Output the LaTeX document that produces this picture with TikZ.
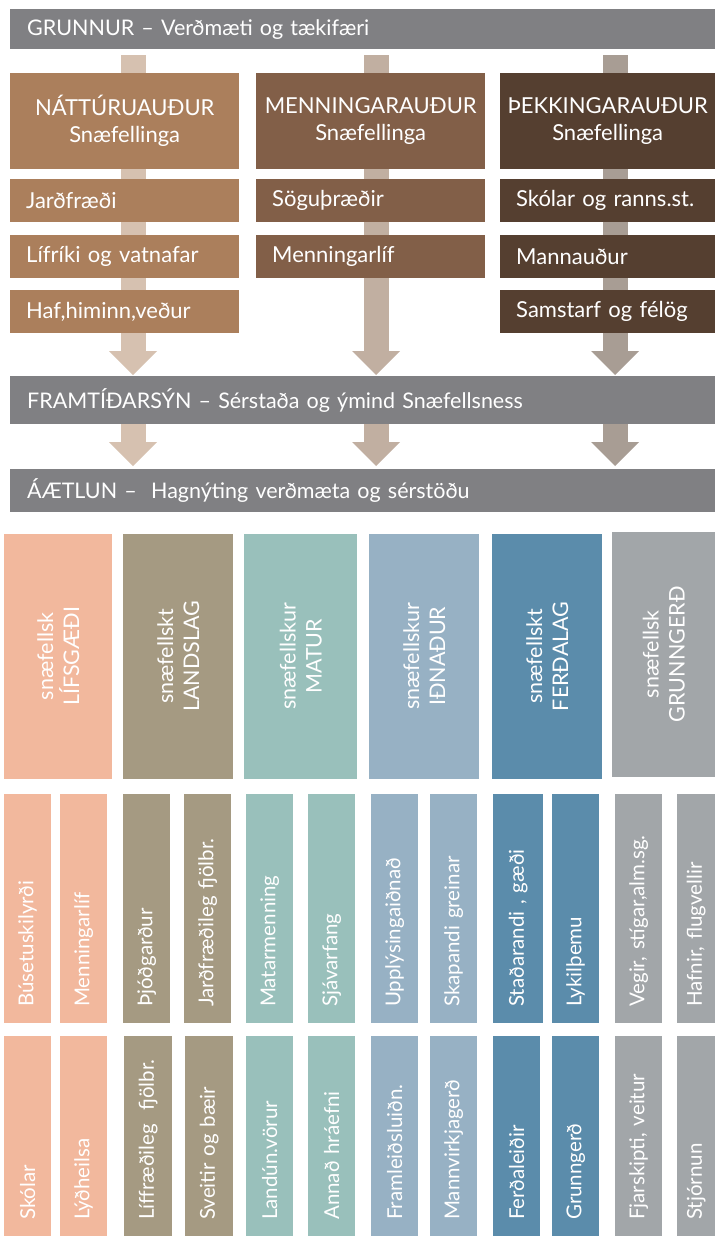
\documentclass[tikz,border=0pt]{standalone}
\usepackage{fontspec}
\setmainfont{Lato}
\usetikzlibrary{arrows.meta,backgrounds}
\definecolor{bargray}{HTML}{808083}
\definecolor{natbrown}{HTML}{AB7F5C}
\definecolor{menbrown}{HTML}{825F48}
\definecolor{pekbrown}{HTML}{553F30}
\definecolor{arrA}{HTML}{D6C1B0}
\definecolor{arrB}{HTML}{C1AFA1}
\definecolor{arrC}{HTML}{A89D94}
\definecolor{lifs}{HTML}{F2B89D}
\definecolor{lands}{HTML}{A59A82}
\definecolor{matur}{HTML}{99C0BB}
\definecolor{idn}{HTML}{97B1C4}
\definecolor{ferd}{HTML}{5B8CAB}
\definecolor{grunn}{HTML}{A2A6A9}

\begin{document}
\begin{tikzpicture}[x=1pt, y=-1pt, inner sep=0pt, text=white, font=\fontsize{20.5}{24}\selectfont,
    bar/.style = {fill=bargray, anchor=north west, minimum width=705pt, text width=671pt, inner xsep=17pt, align=left, font=\fontsize{21.5}{26}\selectfont},
    head/.style = {anchor=north west, minimum width=229pt, minimum height=96pt, align=center, font=\fontsize{22}{27}\selectfont},
    item/.style = {anchor=north west, minimum width=229pt, minimum height=43pt, text width=197pt, inner xsep=16pt, align=left, font=\fontsize{22}{26}\selectfont},
    tall/.style = {rotate=90, anchor=north west, minimum width=245pt, align=center, font=\fontsize{21.5}{26}\selectfont},
    slim/.style = {rotate=90, anchor=north west, minimum height=47pt, inner xsep=16pt, align=left},
    slimA/.style = {slim, text width=197pt},
    slimB/.style = {slim, text width=168pt},
    big/.style = {line width=25pt, -{Triangle[width=48pt, length=24pt, line width=0pt]}}]
    \useasboundingbox (0,0) rectangle (715,1236);

    % top bars
    \node[bar, minimum height=40pt] (grunnur) at (10,9) {GRUNNUR – Verðmæti og tækifæri};
    \node[bar, minimum height=48pt] (framtid) at (10,376) {FRAMTÍÐARSÝN – Sérstaða og ýmind Snæfellsness};
    \node[bar, minimum height=43pt] (aaetlun) at (10,469) {ÁÆTLUN –\ \ Hagnýting verðmæta og sérstöðu};

    % the three kinds of wealth
    \node[head, fill=natbrown] (nat) at (10,73) {NÁTTÚRUAUÐUR\\Snæfellinga};
    \node[head, fill=menbrown] (men) at (256,73) {MENNINGARAUÐUR\\Snæfellinga};
    \node[head, fill=pekbrown, minimum width=215pt] (pek) at (500,73) {ÞEKKINGARAUÐUR\\Snæfellinga};

    \node[item, fill=natbrown] (nat1) at (10,179) {Jarðfræði};
    \node[item, fill=natbrown] (nat2) at (10,235) {Lífríki og vatnafar};
    \node[item, fill=natbrown] (nat3) at (10,290) {Haf,himinn,veður};
    \node[item, fill=menbrown] (men1) at (256,179) {Söguþræðir};
    \node[item, fill=menbrown] (men2) at (256,235) {Menningarlíf};
    \node[item, fill=pekbrown, minimum width=215pt, text width=183pt] (pek1) at (500,179) {Skólar og ranns.st.};
    \node[item, fill=pekbrown, minimum width=215pt, text width=183pt] (pek2) at (500,235) {Mannauður};
    \node[item, fill=pekbrown, minimum width=215pt, text width=183pt] (pek3) at (500,290) {Samstarf og félög};

    % arrow columns
    \coordinate (k1) at (133,0);
    \coordinate (k2) at (376,0);
    \coordinate (k3) at (615,0);
    \begin{scope}[on background layer]
        \draw[big, draw=arrA, shorten <=6pt, shorten >=1pt] (k1 |- grunnur.south) -- (k1 |- framtid.north);
        \draw[big, draw=arrB, shorten <=6pt, shorten >=1pt] (k2 |- grunnur.south) -- (k2 |- framtid.north);
        \draw[big, draw=arrC, shorten <=6pt, shorten >=1pt] (k3 |- grunnur.south) -- (k3 |- framtid.north);
        \draw[big, draw=arrA, shorten >=3pt] (k1 |- framtid.south) -- (k1 |- aaetlun.north);
        \draw[big, draw=arrB, shorten >=3pt] (k2 |- framtid.south) -- (k2 |- aaetlun.north);
        \draw[big, draw=arrC, shorten >=3pt] (k3 |- framtid.south) -- (k3 |- aaetlun.north);
    \end{scope}

    % plan columns
    \node[tall, fill=lifs, minimum height=108pt] (lifsg) at (4,779) {snæfellsk\\LÍFSGÆÐI};
    \node[tall, fill=lands, minimum height=110pt] (landsl) at (123,779) {snæfellskt\\LANDSLAG};
    \node[tall, fill=matur, minimum height=113pt] (matur) at (244,779) {snæfellskur\\MATUR};
    \node[tall, fill=idn, minimum height=110pt] (idnad) at (369,779) {snæfellskur\\IÐNAÐUR};
    \node[tall, fill=ferd, minimum height=110pt] (ferdal) at (492,779) {snæfellskt\\FERÐALAG};
    \node[tall, fill=grunn, minimum height=103pt] (grunng) at (612,777) {snæfellsk\\GRUNNGERÐ};

    % first row of themes
    \node[slimA, fill=lifs] (a1) at (4,1023) {Búsetuskilyrði};
    \node[slimA, fill=lifs] (a2) at (60,1023) {Menningarlíf};
    \node[slimA, fill=lands] (a3) at (123,1023) {Þjóðgarður};
    \node[slimA, fill=lands] (a4) at (184,1023) {Jarðfræðileg fjölbr.};
    \node[slimA, fill=matur] (a5) at (246,1023) {Matarmenning};
    \node[slimA, fill=matur] (a6) at (308,1023) {Sjávarfang};
    \node[slimA, fill=idn] (a7) at (371,1023) {Upplýsingaiðnað};
    \node[slimA, fill=idn] (a8) at (430,1023) {Skapandi greinar};
    \node[slimA, fill=ferd, minimum height=50pt] (a9) at (493,1023) {Staðarandi , gæði};
    \node[slimA, fill=ferd] (a10) at (552,1023) {Lykilþemu};
    \node[slimA, fill=grunn] (a11) at (615,1023) {Vegir, stígar,alm.sg.};
    \node[slimA, fill=grunn, minimum height=38pt] (a12) at (677,1023) {Hafnir, flugvellir};

    % second row of themes
    \node[slimB, fill=lifs] (b1) at (4,1236) {Skólar};
    \node[slimB, fill=lifs] (b2) at (60,1236) {Lýðheilsa};
    \node[slimB, fill=lands, minimum height=48pt] (b3) at (124,1236) {Líffræðileg\ \ fjölbr.};
    \node[slimB, fill=lands, minimum height=48pt] (b4) at (185,1236) {Sveitir og bæir};
    \node[slimB, fill=matur] (b5) at (246,1236) {Landún.vörur};
    \node[slimB, fill=matur] (b6) at (308,1236) {Annað hráefni};
    \node[slimB, fill=idn] (b7) at (371,1236) {Framleiðsluiðn.};
    \node[slimB, fill=idn] (b8) at (430,1236) {Mannvirkjagerð};
    \node[slimB, fill=ferd] (b9) at (493,1236) {Ferðaleiðir};
    \node[slimB, fill=ferd] (b10) at (552,1236) {Grunngerð};
    \node[slimB, fill=grunn] (b11) at (615,1236) {Fjarskipti, veitur};
    \node[slimB, fill=grunn, minimum height=38pt] (b12) at (677,1236) {Stjórnun};
\end{tikzpicture}
\end{document}
